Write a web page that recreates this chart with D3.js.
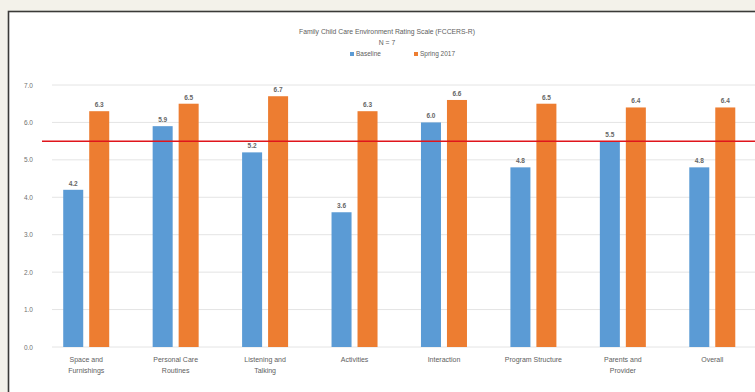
<!DOCTYPE html>
<html>
<head>
<meta charset="utf-8">
<script src="https://cdn.jsdelivr.net/npm/d3@7"></script>
<style>
  html, body { margin: 0; padding: 0; background: #f3f2ea; }
  svg { display: block; }
</style>
</head>
<body>
<svg id="chart" width="755" height="392"></svg>
<script>
const categories = [
  ["Space and", "Furnishings"],
  ["Personal Care", "Routines"],
  ["Listening and", "Talking"],
  ["Activities"],
  ["Interaction"],
  ["Program Structure"],
  ["Parents and", "Provider"],
  ["Overall"]
];
const seriesNames = ["Baseline", "Spring 2017"];
const baseline = [4.2, 5.9, 5.2, 3.6, 6.0, 4.8, 5.5, 4.8];
const spring2017 = [6.3, 6.5, 6.7, 6.3, 6.6, 6.5, 6.4, 6.4];
const yTicks = [0, 1, 2, 3, 4, 5, 6, 7];
const thresholdValue = [5.5];
const titleLines = ["Family Child Care Environment Rating Scale (FCCERS-R)", "N = 7"];

const colors = ["#5b9bd5", "#ed7d31"];
const svg = d3.select("#chart");

// frame
svg.append("rect").attr("x", 0).attr("y", 0).attr("width", 755).attr("height", 392).attr("fill", "#f3f2ea");
svg.append("rect").attr("x", 8.5).attr("y", 11.5).attr("width", 760).attr("height", 400)
  .attr("fill", "#ffffff").attr("stroke", "#3a3a38").attr("stroke-width", 1.6);

const y = d3.scaleLinear().domain([0, 7]).range([347, 85]);
const x = d3.scaleBand().domain(d3.range(categories.length)).range([41.5, 757]).paddingInner(0).paddingOuter(0);
const groupW = 46;
const xs = d3.scaleBand().domain([0, 1]).range([0, groupW]).paddingInner(0.23);

// gridlines
svg.append("g").selectAll("line").data(yTicks).join("line")
  .attr("x1", 52).attr("x2", 755)
  .attr("y1", d => y(d)).attr("y2", d => y(d))
  .attr("stroke", "#e4e4e4").attr("stroke-width", 1);

// y axis labels
const yAxis = d3.axisLeft(y).tickValues(yTicks).tickFormat(d3.format(".1f")).tickSize(0).tickPadding(0);
const ya = svg.append("g").attr("transform", "translate(33,0)").call(yAxis);
ya.select(".domain").remove();
ya.selectAll("text").attr("font-family", "Liberation Sans, Arial, sans-serif").attr("font-size", 6.5).attr("fill", "#707070");

// bars
const data = [baseline, spring2017];
const groups = svg.append("g").selectAll("g").data(categories).join("g")
  .attr("transform", (d, i) => `translate(${x(i) + x.bandwidth() / 2 - groupW / 2},0)`);

groups.each(function(c, i) {
  const g = d3.select(this);
  data.forEach((s, k) => {
    g.append("rect")
      .attr("x", xs(k)).attr("width", xs.bandwidth())
      .attr("y", y(s[i])).attr("height", y(0) - y(s[i]))
      .attr("fill", colors[k]);
    g.append("text")
      .attr("x", xs(k) + xs.bandwidth() / 2).attr("y", y(s[i]) - 4)
      .attr("text-anchor", "middle")
      .attr("font-family", "Liberation Sans, Arial, sans-serif")
      .attr("font-size", 6.5).attr("font-weight", "bold").attr("fill", "#666666")
      .text(d3.format(".1f")(s[i]));
  });
});

// category labels
const xl = svg.append("g").selectAll("text").data(categories).join("text")
  .attr("x", (d, i) => x(i) + x.bandwidth() / 2)
  .attr("y", 362)
  .attr("text-anchor", "middle")
  .attr("font-family", "Liberation Sans, Arial, sans-serif")
  .attr("font-size", 7).attr("fill", "#606060");
xl.selectAll("tspan").data(d => d).join("tspan")
  .attr("x", function() { return d3.select(this.parentNode).attr("x"); })
  .attr("dy", (d, j) => j === 0 ? 0 : 11)
  .text(d => d);

// title
svg.append("g").selectAll("text").data(titleLines).join("text")
  .attr("x", 387).attr("y", (d, i) => 34 + i * 11)
  .attr("text-anchor", "middle")
  .attr("font-family", "Liberation Sans, Arial, sans-serif")
  .attr("font-size", 6.8).attr("fill", "#606060")
  .text(d => d);

// legend
const legendX = [350, 414];
const lg = svg.append("g").selectAll("g").data(seriesNames).join("g")
  .attr("transform", (d, i) => `translate(${legendX[i]},56)`);
lg.append("rect").attr("x", 0).attr("y", -4).attr("width", 4).attr("height", 4).attr("fill", (d, i) => colors[i]);
lg.append("text").attr("x", 6).attr("y", 0)
  .attr("font-family", "Liberation Sans, Arial, sans-serif")
  .attr("font-size", 6.5).attr("fill", "#606060").text(d => d);

// red threshold line
svg.append("g").selectAll("line").data(thresholdValue).join("line")
  .attr("x1", 42).attr("x2", 755)
  .attr("y1", d => y(d)).attr("y2", d => y(d))
  .attr("stroke", "#e0151b").attr("stroke-width", 1.5);
</script>
</body>
</html>
